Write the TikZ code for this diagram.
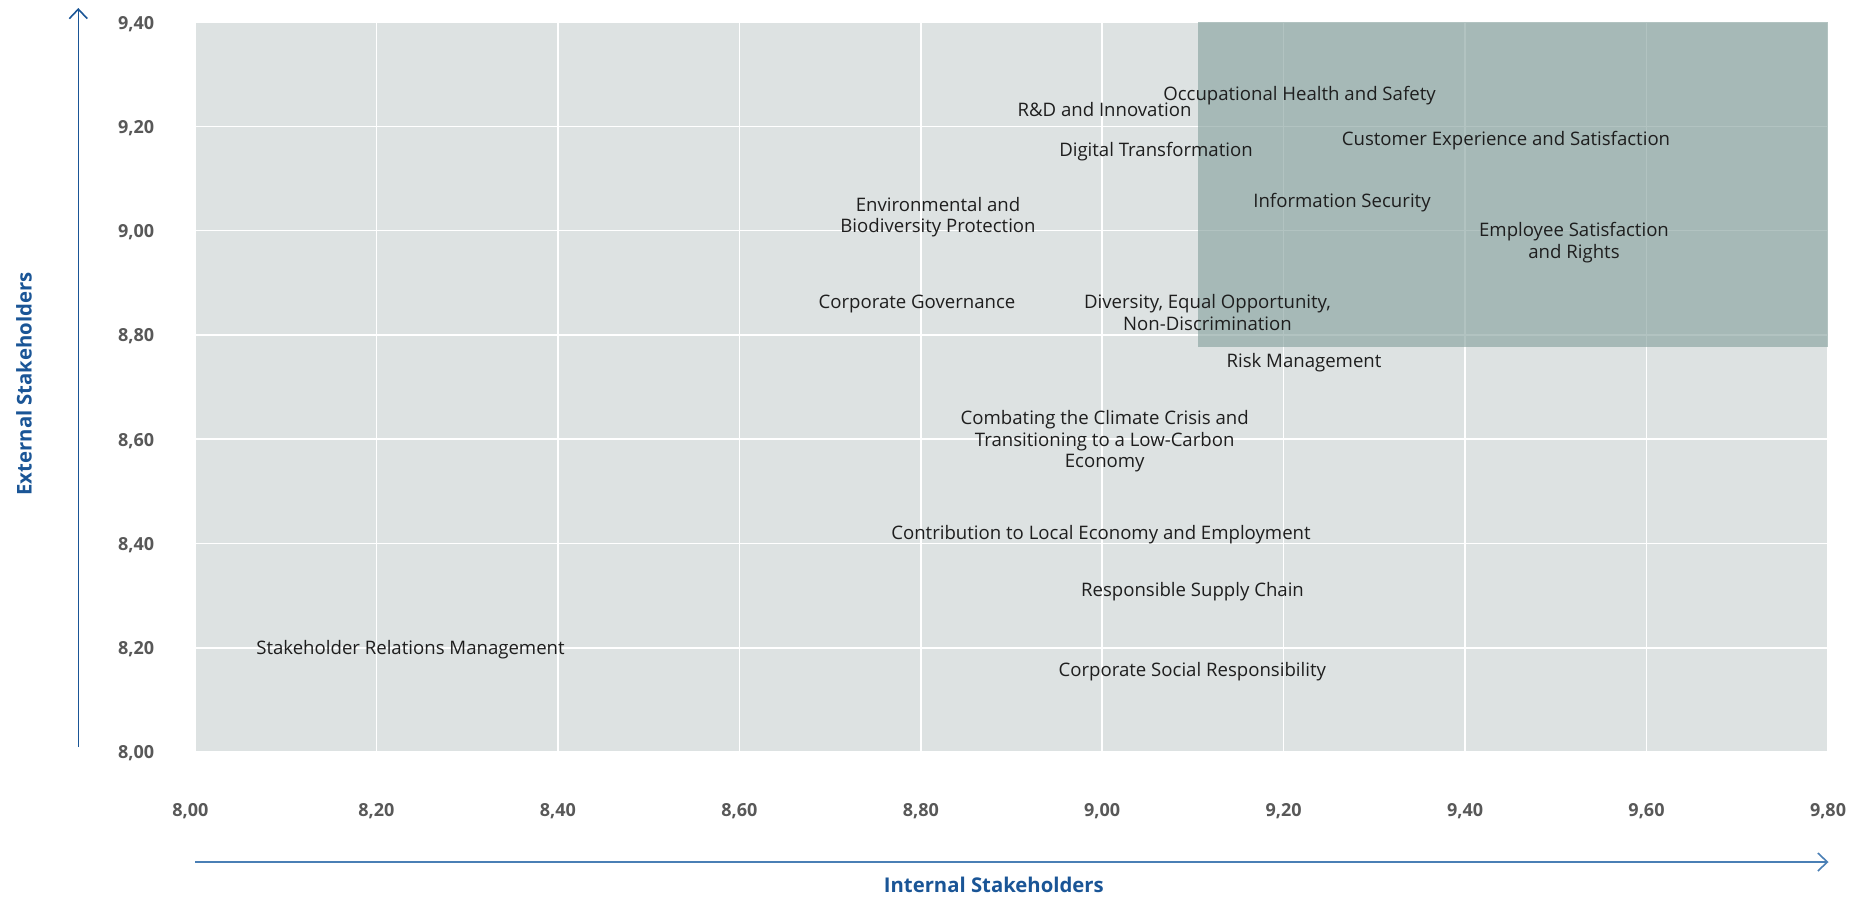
\documentclass[tikz,border=0pt]{standalone}
\usepackage{fontspec}
\setmainfont{Open Sans}
\usetikzlibrary{arrows.meta}
\definecolor{plotbg}{RGB}{221,226,226}
\definecolor{focus}{RGB}{138,164,161}
\definecolor{axisdark}{RGB}{26,85,150}
\definecolor{axislight}{RGB}{74,127,181}
\definecolor{ticktext}{RGB}{88,88,88}
\definecolor{labeltext}{RGB}{30,30,30}
\begin{document}
\begin{tikzpicture}[x=1pt,y=-1pt,
  topic/.style={inner sep=0pt, anchor=base, align=center, text=labeltext,
    font=\fontsize{18.6}{21.7}\selectfont},
  ytick/.style={inner sep=0pt, anchor=base east, text=ticktext,
    font=\bfseries\fontsize{18}{20}\selectfont},
  xtick/.style={inner sep=0pt, anchor=base, text=ticktext,
    font=\bfseries\fontsize{18}{20}\selectfont},
  axistitle/.style={inner sep=0pt, anchor=base, text=axisdark,
    font=\bfseries\fontsize{20.3}{24}\selectfont},
  gridline/.style={draw=white, line width=1.5pt},
  axisline/.style={line width=1.6pt, -{Straight Barb[length=9.5pt, width=18pt, line width=1.6pt]}}]
\useasboundingbox (0,0) rectangle (1863,898);

% plot area
\fill[plotbg] (195,22) rectangle (1828,752);
\foreach \i in {0,...,9} {
  \draw[gridline] ({195+\i*181.44},22) -- ({195+\i*181.44},752);
}
\foreach \j in {0,...,7} {
  \draw[gridline] (195,{22+\j*104.29}) -- (1828,{22+\j*104.29});
}
\fill[focus, opacity=0.65] (1198,22) rectangle (1828,347);

% axes
\coordinate (ybot) at (78.3,747);
\coordinate (ytop) at (78.3,8);
\coordinate (xleft) at (195,862);
\coordinate (xright) at (1828.5,862);
\draw[axisline, axisdark] (ybot) -- (ytop);
\draw[axisline, axislight] (xleft) -- (xright);

% tick labels
\node[ytick] (y940) at (154.3,29.5) {9,40};
\node[ytick] (y920) at (154.3,133.3) {9,20};
\node[ytick] (y900) at (154.3,237.6) {9,00};
\node[ytick] (y880) at (154.3,341.9) {8,80};
\node[ytick] (y860) at (154.3,446.2) {8,60};
\node[ytick] (y840) at (154.3,550.5) {8,40};
\node[ytick] (y820) at (154.3,654.8) {8,20};
\node[ytick] (y800) at (154.3,758) {8,00};

\node[xtick] (x800) at (190.3,816.7) {8,00};
\node[xtick] (x820) at (376.4,816.7) {8,20};
\node[xtick] (x840) at (557.9,816.7) {8,40};
\node[xtick] (x860) at (739.3,816.7) {8,60};
\node[xtick] (x880) at (920.8,816.7) {8,80};
\node[xtick] (x900) at (1102.2,816.7) {9,00};
\node[xtick] (x920) at (1283.6,816.7) {9,20};
\node[xtick] (x940) at (1465.1,816.7) {9,40};
\node[xtick] (x960) at (1646.5,816.7) {9,60};
\node[xtick] (x980) at (1828,816.7) {9,80};

% axis titles
\node[axistitle, rotate=90] (ytitle) at (31.5,384) {External Stakeholders};
\node[axistitle] (xtitle) at (993.8,892.3) {Internal Stakeholders};

% topics (multi-line nodes are placed by the baseline of their last line)
\node[topic] (ohs) at (1299.5,100.7) {Occupational Health and Safety};
\node[topic] (rdi) at (1104.5,116.7) {R\&D and Innovation};
\node[topic] (cex) at (1506,145) {Customer Experience and Satisfaction};
\node[topic] (dig) at (1156,156) {Digital Transformation};
\node[topic] (env) at (938,232.7) {Environmental and\\Biodiversity Protection};
\node[topic] (isec) at (1342,207) {Information Security};
\node[topic] (emp) at (1574,258.3) {Employee Satisfaction\\and Rights};
\node[topic] (gov) at (917,308.3) {Corporate Governance};
\node[topic] (div) at (1207.5,330) {Diversity, Equal Opportunity,\\Non-Discrimination};
\node[topic] (risk) at (1304,367.3) {Risk Management};
\node[topic] (clim) at (1104.7,467.7) {Combating the Climate Crisis and\\Transitioning to a Low-Carbon\\Economy};
\node[topic] (loc) at (1101,539.3) {Contribution to Local Economy and Employment};
\node[topic] (sup) at (1192.5,596) {Responsible Supply Chain};
\node[topic] (srm) at (410.5,654) {Stakeholder Relations Management};
\node[topic] (csr) at (1192.3,676.7) {Corporate Social Responsibility};
\end{tikzpicture}
\end{document}
